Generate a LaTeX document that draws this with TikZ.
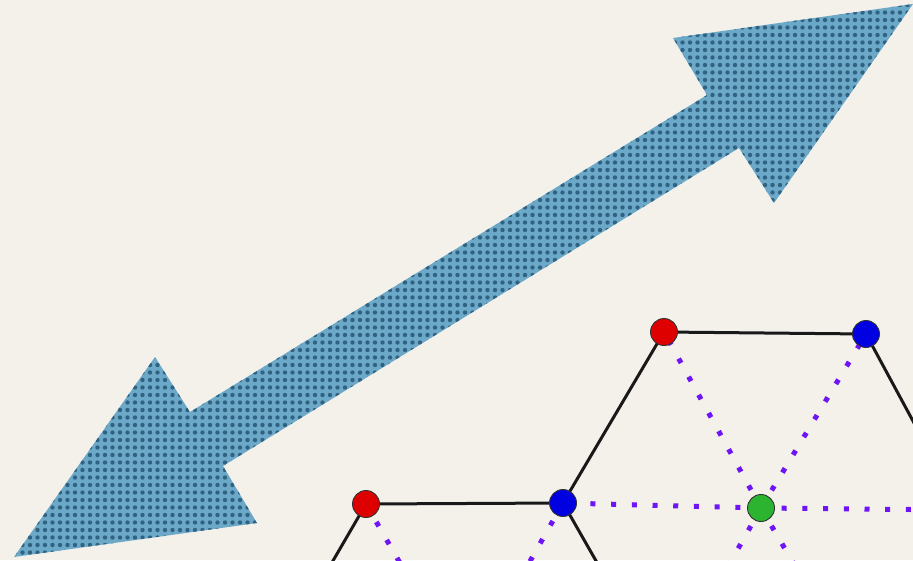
\documentclass[tikz,border=0pt]{standalone}
\usetikzlibrary{patterns.meta}
\definecolor{paper}{RGB}{244,241,235}
\definecolor{arrowblue}{RGB}{108,168,200}
\definecolor{arrowdot}{RGB}{48,98,130}
\definecolor{nred}{RGB}{222,0,0}
\definecolor{nblue}{RGB}{0,0,225}
\definecolor{ngreen}{RGB}{44,180,48}
\definecolor{dotviolet}{RGB}{110,20,245}
\pgfdeclarelayer{bg}
\pgfdeclarelayer{lines}
\pgfsetlayers{bg,lines,main}
\tikzdeclarepattern{
  name=halftone,
  type=uncolored,
  bottom left={(-3.75pt,-3.75pt)},
  top right={(3.75pt,3.75pt)},
  tile size={(7.5pt,7.5pt)},
  code={\fill (0pt,0pt) circle (2.2pt);}
}
\tikzset{
  vert/.style={circle, draw=black!80, line width=0.9pt, minimum size=27pt, inner sep=0pt},
  edge/.style={draw=black!90, line width=3pt},
  dual/.style={draw=dotviolet, line width=5pt, dash pattern=on 5pt off 15.7pt},
}
\begin{document}
\begin{tikzpicture}[x=1pt,y=-1pt]
\begin{pgfonlayer}{bg}
\fill[paper] (0,0) rectangle (913,560);
\def\arrowpath{(913,4) -- (774,203) -- (739,148) -- (223,466) -- (257,523) -- (14,557) -- (155,357) -- (190,412) -- (707,95) -- (673,38) -- cycle}
\fill[arrowblue] \arrowpath;
\fill[pattern=halftone, pattern color=arrowdot] \arrowpath;
\end{pgfonlayer}
\useasboundingbox (0,0) rectangle (913,560);
\coordinate (R) at (961,510);
\coordinate (BL) at (664,680);
\coordinate (BR) at (862,680);
\coordinate (LL) at (266,676);
\coordinate (C2) at (465,676);
\node[vert, fill=nred] (r1) at (664,332) {};
\node[vert, fill=nblue] (b1) at (866,334) {};
\node[vert, fill=nred] (r2) at (366,504) {};
\node[vert, fill=nblue] (b2) at (563,503) {};
\node[vert, fill=ngreen] (g) at (761,508) {};
\begin{pgfonlayer}{lines}
\clip (0,0) rectangle (913,560);
\path[dual] (g.center) -- (r1.center);
\path[dual] (g.center) -- (b1.center);
\path[dual] (g.center) -- (b2.center);
\path[dual] (g.center) -- (R);
\path[dual] (g.center) -- (BL);
\path[dual] (g.center) -- (BR);
\path[dual] (r2.center) -- (C2);
\path[dual] (b2.center) -- (C2);
\path[edge] (r1.center) -- (b1.center);
\path[edge] (r1.center) -- (b2.center);
\path[edge] (b1.center) -- (R);
\path[edge] (r2.center) -- (b2.center);
\path[edge] (b2.center) -- (BL);
\path[edge] (r2.center) -- (LL);
\end{pgfonlayer}
\end{tikzpicture}
\end{document}
